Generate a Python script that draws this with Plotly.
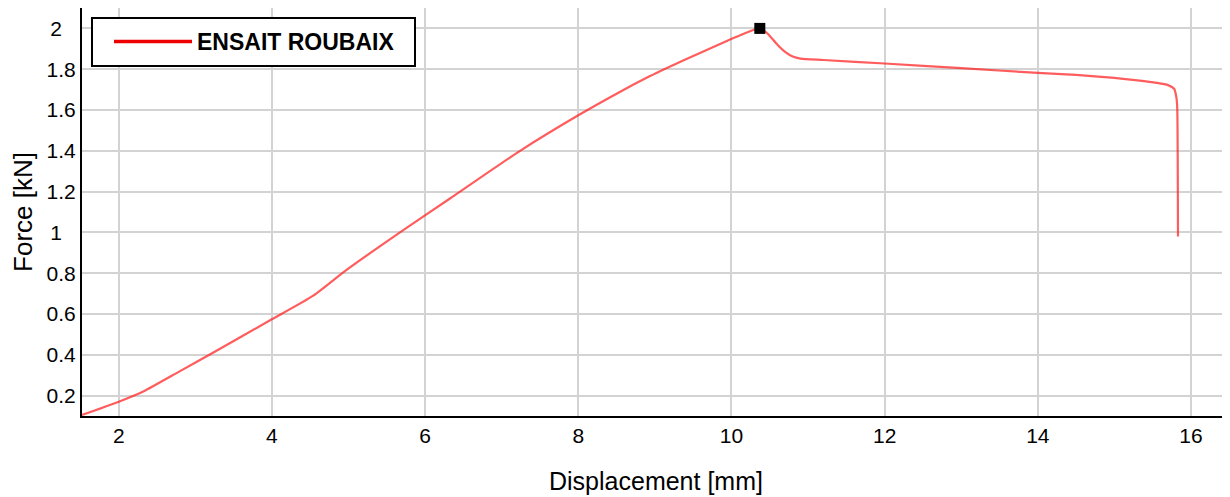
import plotly.graph_objects as go

series_name = "ENSAIT ROUBAIX"
displacement_mm = [1.52, 2.0, 2.32, 2.8, 3.23, 3.97, 4.54, 4.97, 5.71, 6.32, 7.24, 8.0,
                   8.5, 8.93, 9.15, 9.5, 9.8, 10.01, 10.2, 10.37, 10.47, 10.6, 10.7, 10.8, 10.9,
                   11.2, 12.0, 13.0, 14.0, 14.5, 15.0, 15.3, 15.55, 15.7, 15.78, 15.81, 15.82, 15.83]
force_kN = [0.105, 0.17, 0.22, 0.32, 0.41, 0.568, 0.69, 0.815, 1.01, 1.165, 1.40, 1.574,
            1.68, 1.765, 1.805, 1.865, 1.915, 1.95, 1.98, 2.0, 1.975, 1.92, 1.885, 1.862, 1.852,
            1.845, 1.828, 1.805, 1.782, 1.772, 1.757, 1.745, 1.733, 1.722, 1.704, 1.66, 1.614, 0.98]
peak_x = [10.37]
peak_y = [2.0]
x_ticks = [2, 4, 6, 8, 10, 12, 14, 16]
y_ticks_decimal = [0.2, 0.4, 0.6, 0.8, 1.2, 1.4, 1.6, 1.8]
y_ticks_integer = [1, 2]

FONT = "Liberation Sans, Arial, sans-serif"

# figure coords (page body adds an 8px offset)
L, T, R, B = 54, 0, 0, 81
W, H = 1222, 489
PW, PH = W - L - R, H - T - B
PLOT_LEFT = 82 - 8 - L           # px from paper left to the plot area
DOM0 = PLOT_LEFT / PW
X0 = 1.52
X_PER_PX = 14.48 / (1191 - 82)
X1 = X0 + (PW - PLOT_LEFT) * X_PER_PX
Y_RANGE = [0.1, 2.1]

def px_x(p):
    return (p - 8 - L) / PW

def px_y(p):
    return 1 - (p - 8 - T) / PH

fig = go.Figure()
fig.add_trace(go.Scatter(x=displacement_mm, y=force_kN, mode="lines",
                         line=dict(color="rgba(255,30,30,0.72)", width=2.2,
                                   shape="spline", smoothing=0.6),
                         showlegend=False, hoverinfo="skip"))
fig.add_trace(go.Scatter(x=peak_x, y=peak_y, mode="markers",
                         marker=dict(symbol="square", size=11, color="black"),
                         showlegend=False))
fig.add_trace(go.Scatter(x=[None], y=[None], mode="lines", name=series_name,
                         line=dict(color="#ee0000", width=3.5)))
fig.add_trace(go.Scatter(x=[None], y=[None], yaxis="y2", showlegend=False,
                         hoverinfo="skip"))

fig.add_shape(type="rect", xref="paper", yref="paper",
              x0=px_x(92), x1=px_x(415), y0=px_y(66), y1=px_y(18),
              line=dict(color="black", width=2), fillcolor="white", layer="above")

grid = dict(showgrid=True, gridcolor="#d3d3d3", gridwidth=2, zeroline=False)

fig.update_layout(
    width=W, height=H,
    margin=dict(l=L, r=R, t=T, b=B, autoexpand=False),
    paper_bgcolor="white", plot_bgcolor="white",
    font=dict(family=FONT, size=21, color="black"),
    showlegend=True,
    legend=dict(x=px_x(109), y=px_y(20), xanchor="left", yanchor="top",
                bgcolor="rgba(0,0,0,0)", borderwidth=0,
                font=dict(family=FONT, size=23, color="black", weight="bold"),
                itemwidth=78, tracegroupgap=0),
    xaxis=dict(range=[X0, X1], domain=[DOM0, 1], tickvals=x_ticks, showline=True,
               linecolor="black", linewidth=2, mirror=True, ticks="",
               ticklabelstandoff=0, automargin=False,
               title=dict(text="Displacement [mm]", font=dict(size=25), standoff=26),
               tickfont=dict(size=21), **grid),
    yaxis=dict(range=Y_RANGE, tickvals=y_ticks_decimal, showline=True, linecolor="black",
               linewidth=2, mirror=False, ticks="", ticklabelstandoff=0, automargin=False,
               title=dict(text="Force [kN]", font=dict(size=26), standoff=9),
               tickfont=dict(size=21), **grid),
    yaxis2=dict(range=Y_RANGE, tickvals=y_ticks_integer, overlaying="y", side="left",
                anchor="free", position=0, showline=False, ticks="",
                automargin=False, tickfont=dict(size=21), **grid),
)

fig.write_html("out.html")
